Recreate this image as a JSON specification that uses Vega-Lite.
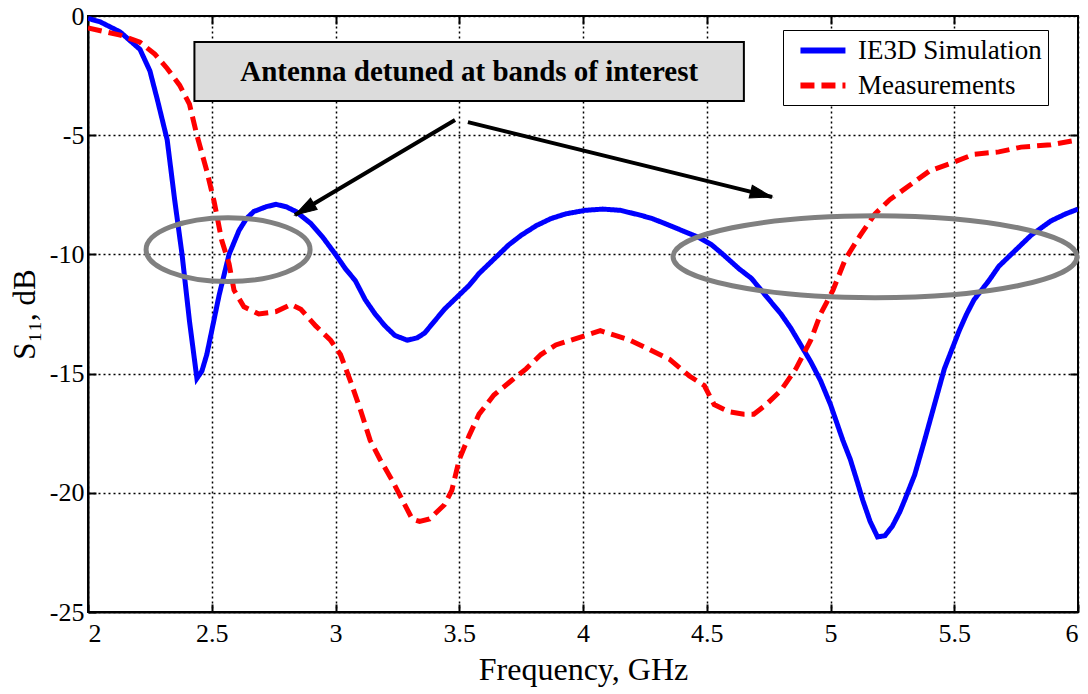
{
  "$schema": "https://vega.github.io/schema/vega-lite/v6.json",
  "width": 990,
  "height": 596,
  "autosize": {"type": "none"},
  "padding": {"left": 88, "top": 16, "right": 10, "bottom": 82},
  "background": "white",
  "config": {
    "view": {"stroke": "black", "strokeWidth": 2},
    "font": "Liberation Serif",
    "axis": {
      "labelFont": "Liberation Serif", "labelFontSize": 26, "labelColor": "black",
      "titleFont": "Liberation Serif", "titleFontSize": 32, "titleColor": "black", "titleFontWeight": "normal",
      "gridColor": "black", "gridDash": [2, 3], "gridWidth": 1.5, "gridOpacity": 1,
      "domainColor": "black", "domainWidth": 2, "tickColor": "black", "tickWidth": 2,
      "tickSize": -8, "labelPadding": 16
    },
    "legend": {
      "orient": "none", "legendX": 695, "legendY": 14,
      "strokeColor": "black", "fillColor": "white", "padding": 6,
      "labelFont": "Liberation Serif", "labelFontSize": 27, "labelColor": "black", "labelLimit": 400,
      "symbolType": "M-0.27,0L3.73,0", "symbolStrokeWidth": 6, "symbolSize": 506,
      "rowPadding": 7, "labelOffset": 40, "titleFontSize": 0
    }
  },
  "resolve": {"axis": {"x": "independent", "y": "independent"}},
  "datasets": {
    "curves": [
      {"f": 2.0, "s": -0.1, "series": "IE3D Simulation"},
      {"f": 2.05, "s": -0.25, "series": "IE3D Simulation"},
      {"f": 2.13, "s": -0.67, "series": "IE3D Simulation"},
      {"f": 2.21, "s": -1.4, "series": "IE3D Simulation"},
      {"f": 2.25, "s": -2.3, "series": "IE3D Simulation"},
      {"f": 2.28, "s": -3.5, "series": "IE3D Simulation"},
      {"f": 2.32, "s": -5.2, "series": "IE3D Simulation"},
      {"f": 2.35, "s": -7.7, "series": "IE3D Simulation"},
      {"f": 2.38, "s": -10.0, "series": "IE3D Simulation"},
      {"f": 2.41, "s": -12.8, "series": "IE3D Simulation"},
      {"f": 2.44, "s": -15.2, "series": "IE3D Simulation"},
      {"f": 2.46, "s": -14.9, "series": "IE3D Simulation"},
      {"f": 2.48, "s": -14.2, "series": "IE3D Simulation"},
      {"f": 2.51, "s": -12.7, "series": "IE3D Simulation"},
      {"f": 2.53, "s": -11.7, "series": "IE3D Simulation"},
      {"f": 2.57, "s": -10.0, "series": "IE3D Simulation"},
      {"f": 2.61, "s": -9.0, "series": "IE3D Simulation"},
      {"f": 2.64, "s": -8.5, "series": "IE3D Simulation"},
      {"f": 2.67, "s": -8.2, "series": "IE3D Simulation"},
      {"f": 2.72, "s": -8.0, "series": "IE3D Simulation"},
      {"f": 2.76, "s": -7.9, "series": "IE3D Simulation"},
      {"f": 2.80, "s": -8.0, "series": "IE3D Simulation"},
      {"f": 2.84, "s": -8.2, "series": "IE3D Simulation"},
      {"f": 2.90, "s": -8.7, "series": "IE3D Simulation"},
      {"f": 2.95, "s": -9.3, "series": "IE3D Simulation"},
      {"f": 3.0, "s": -10.0, "series": "IE3D Simulation"},
      {"f": 3.04, "s": -10.6, "series": "IE3D Simulation"},
      {"f": 3.08, "s": -11.1, "series": "IE3D Simulation"},
      {"f": 3.12, "s": -11.9, "series": "IE3D Simulation"},
      {"f": 3.16, "s": -12.5, "series": "IE3D Simulation"},
      {"f": 3.2, "s": -13.0, "series": "IE3D Simulation"},
      {"f": 3.24, "s": -13.4, "series": "IE3D Simulation"},
      {"f": 3.29, "s": -13.6, "series": "IE3D Simulation"},
      {"f": 3.33, "s": -13.5, "series": "IE3D Simulation"},
      {"f": 3.36, "s": -13.3, "series": "IE3D Simulation"},
      {"f": 3.40, "s": -12.8, "series": "IE3D Simulation"},
      {"f": 3.44, "s": -12.3, "series": "IE3D Simulation"},
      {"f": 3.49, "s": -11.8, "series": "IE3D Simulation"},
      {"f": 3.54, "s": -11.3, "series": "IE3D Simulation"},
      {"f": 3.58, "s": -10.8, "series": "IE3D Simulation"},
      {"f": 3.62, "s": -10.4, "series": "IE3D Simulation"},
      {"f": 3.66, "s": -10.0, "series": "IE3D Simulation"},
      {"f": 3.70, "s": -9.6, "series": "IE3D Simulation"},
      {"f": 3.75, "s": -9.2, "series": "IE3D Simulation"},
      {"f": 3.81, "s": -8.8, "series": "IE3D Simulation"},
      {"f": 3.87, "s": -8.5, "series": "IE3D Simulation"},
      {"f": 3.93, "s": -8.3, "series": "IE3D Simulation"},
      {"f": 4.01, "s": -8.15, "series": "IE3D Simulation"},
      {"f": 4.08, "s": -8.1, "series": "IE3D Simulation"},
      {"f": 4.15, "s": -8.15, "series": "IE3D Simulation"},
      {"f": 4.23, "s": -8.35, "series": "IE3D Simulation"},
      {"f": 4.28, "s": -8.5, "series": "IE3D Simulation"},
      {"f": 4.33, "s": -8.7, "series": "IE3D Simulation"},
      {"f": 4.40, "s": -9.0, "series": "IE3D Simulation"},
      {"f": 4.47, "s": -9.3, "series": "IE3D Simulation"},
      {"f": 4.52, "s": -9.6, "series": "IE3D Simulation"},
      {"f": 4.56, "s": -9.95, "series": "IE3D Simulation"},
      {"f": 4.63, "s": -10.6, "series": "IE3D Simulation"},
      {"f": 4.68, "s": -11.0, "series": "IE3D Simulation"},
      {"f": 4.72, "s": -11.5, "series": "IE3D Simulation"},
      {"f": 4.76, "s": -12.0, "series": "IE3D Simulation"},
      {"f": 4.80, "s": -12.5, "series": "IE3D Simulation"},
      {"f": 4.84, "s": -13.1, "series": "IE3D Simulation"},
      {"f": 4.88, "s": -13.8, "series": "IE3D Simulation"},
      {"f": 4.92, "s": -14.5, "series": "IE3D Simulation"},
      {"f": 4.96, "s": -15.3, "series": "IE3D Simulation"},
      {"f": 5.0, "s": -16.3, "series": "IE3D Simulation"},
      {"f": 5.02, "s": -16.9, "series": "IE3D Simulation"},
      {"f": 5.05, "s": -17.8, "series": "IE3D Simulation"},
      {"f": 5.08, "s": -18.6, "series": "IE3D Simulation"},
      {"f": 5.11, "s": -19.6, "series": "IE3D Simulation"},
      {"f": 5.13, "s": -20.3, "series": "IE3D Simulation"},
      {"f": 5.16, "s": -21.2, "series": "IE3D Simulation"},
      {"f": 5.19, "s": -21.85, "series": "IE3D Simulation"},
      {"f": 5.22, "s": -21.8, "series": "IE3D Simulation"},
      {"f": 5.25, "s": -21.4, "series": "IE3D Simulation"},
      {"f": 5.28, "s": -20.8, "series": "IE3D Simulation"},
      {"f": 5.30, "s": -20.3, "series": "IE3D Simulation"},
      {"f": 5.34, "s": -19.25, "series": "IE3D Simulation"},
      {"f": 5.38, "s": -17.8, "series": "IE3D Simulation"},
      {"f": 5.42, "s": -16.3, "series": "IE3D Simulation"},
      {"f": 5.46, "s": -14.8, "series": "IE3D Simulation"},
      {"f": 5.49, "s": -14.0, "series": "IE3D Simulation"},
      {"f": 5.52, "s": -13.2, "series": "IE3D Simulation"},
      {"f": 5.55, "s": -12.5, "series": "IE3D Simulation"},
      {"f": 5.58, "s": -11.9, "series": "IE3D Simulation"},
      {"f": 5.64, "s": -11.1, "series": "IE3D Simulation"},
      {"f": 5.68, "s": -10.5, "series": "IE3D Simulation"},
      {"f": 5.73, "s": -10.0, "series": "IE3D Simulation"},
      {"f": 5.77, "s": -9.6, "series": "IE3D Simulation"},
      {"f": 5.81, "s": -9.2, "series": "IE3D Simulation"},
      {"f": 5.85, "s": -8.9, "series": "IE3D Simulation"},
      {"f": 5.89, "s": -8.6, "series": "IE3D Simulation"},
      {"f": 5.95, "s": -8.3, "series": "IE3D Simulation"},
      {"f": 6.0, "s": -8.1, "series": "IE3D Simulation"},
      {"f": 2.0, "s": -0.5, "series": "Measurements"},
      {"f": 2.13, "s": -0.8, "series": "Measurements"},
      {"f": 2.21, "s": -1.1, "series": "Measurements"},
      {"f": 2.27, "s": -1.6, "series": "Measurements"},
      {"f": 2.32, "s": -2.2, "series": "Measurements"},
      {"f": 2.37, "s": -2.9, "series": "Measurements"},
      {"f": 2.41, "s": -3.7, "series": "Measurements"},
      {"f": 2.44, "s": -5.0, "series": "Measurements"},
      {"f": 2.48, "s": -6.5, "series": "Measurements"},
      {"f": 2.51, "s": -7.8, "series": "Measurements"},
      {"f": 2.54, "s": -9.4, "series": "Measurements"},
      {"f": 2.57, "s": -10.4, "series": "Measurements"},
      {"f": 2.59, "s": -11.5, "series": "Measurements"},
      {"f": 2.63, "s": -12.2, "series": "Measurements"},
      {"f": 2.69, "s": -12.5, "series": "Measurements"},
      {"f": 2.76, "s": -12.4, "series": "Measurements"},
      {"f": 2.82, "s": -12.1, "series": "Measurements"},
      {"f": 2.86, "s": -12.3, "series": "Measurements"},
      {"f": 2.92, "s": -13.0, "series": "Measurements"},
      {"f": 2.98, "s": -13.6, "series": "Measurements"},
      {"f": 3.02, "s": -14.2, "series": "Measurements"},
      {"f": 3.06, "s": -15.3, "series": "Measurements"},
      {"f": 3.10, "s": -16.5, "series": "Measurements"},
      {"f": 3.14, "s": -17.8, "series": "Measurements"},
      {"f": 3.18, "s": -18.6, "series": "Measurements"},
      {"f": 3.23, "s": -19.5, "series": "Measurements"},
      {"f": 3.27, "s": -20.3, "series": "Measurements"},
      {"f": 3.31, "s": -21.1, "series": "Measurements"},
      {"f": 3.34, "s": -21.2, "series": "Measurements"},
      {"f": 3.38, "s": -21.1, "series": "Measurements"},
      {"f": 3.44, "s": -20.5, "series": "Measurements"},
      {"f": 3.47, "s": -19.9, "series": "Measurements"},
      {"f": 3.50, "s": -18.6, "series": "Measurements"},
      {"f": 3.54, "s": -17.6, "series": "Measurements"},
      {"f": 3.58, "s": -16.7, "series": "Measurements"},
      {"f": 3.64, "s": -15.9, "series": "Measurements"},
      {"f": 3.71, "s": -15.3, "series": "Measurements"},
      {"f": 3.77, "s": -14.8, "series": "Measurements"},
      {"f": 3.83, "s": -14.2, "series": "Measurements"},
      {"f": 3.89, "s": -13.8, "series": "Measurements"},
      {"f": 3.95, "s": -13.6, "series": "Measurements"},
      {"f": 4.01, "s": -13.4, "series": "Measurements"},
      {"f": 4.07, "s": -13.2, "series": "Measurements"},
      {"f": 4.13, "s": -13.4, "series": "Measurements"},
      {"f": 4.19, "s": -13.6, "series": "Measurements"},
      {"f": 4.27, "s": -14.0, "series": "Measurements"},
      {"f": 4.35, "s": -14.4, "series": "Measurements"},
      {"f": 4.43, "s": -15.1, "series": "Measurements"},
      {"f": 4.49, "s": -15.5, "series": "Measurements"},
      {"f": 4.53, "s": -16.3, "series": "Measurements"},
      {"f": 4.59, "s": -16.6, "series": "Measurements"},
      {"f": 4.65, "s": -16.7, "series": "Measurements"},
      {"f": 4.69, "s": -16.7, "series": "Measurements"},
      {"f": 4.74, "s": -16.3, "series": "Measurements"},
      {"f": 4.80, "s": -15.7, "series": "Measurements"},
      {"f": 4.86, "s": -14.8, "series": "Measurements"},
      {"f": 4.92, "s": -13.6, "series": "Measurements"},
      {"f": 4.96, "s": -12.5, "series": "Measurements"},
      {"f": 5.01, "s": -11.5, "series": "Measurements"},
      {"f": 5.06, "s": -10.2, "series": "Measurements"},
      {"f": 5.12, "s": -9.2, "series": "Measurements"},
      {"f": 5.18, "s": -8.3, "series": "Measurements"},
      {"f": 5.24, "s": -7.7, "series": "Measurements"},
      {"f": 5.32, "s": -7.1, "series": "Measurements"},
      {"f": 5.40, "s": -6.5, "series": "Measurements"},
      {"f": 5.48, "s": -6.2, "series": "Measurements"},
      {"f": 5.58, "s": -5.8, "series": "Measurements"},
      {"f": 5.68, "s": -5.7, "series": "Measurements"},
      {"f": 5.77, "s": -5.5, "series": "Measurements"},
      {"f": 5.89, "s": -5.4, "series": "Measurements"},
      {"f": 6.0, "s": -5.2, "series": "Measurements"}
    ],
    "box": [{"x1": 2.43, "x2": 4.65, "y1": -1.09, "y2": -3.57, "label": "Antenna detuned at bands of interest", "xc": 3.54, "yc": -2.33}],
    "ellipseL": [{"x": 2.566, "y": -9.8}],
    "ellipseR": [{"x": 5.18, "y": -10.1}],
    "arrows": [
      {"x1": 3.483, "y1": -4.36, "x2": 2.836, "y2": -8.35, "angle": 239.4},
      {"x1": 3.535, "y1": -4.45, "x2": 4.764, "y2": -7.59, "angle": 103.9}
    ]
  },
  "layer": [
    {
      "data": {"name": "curves"},
      "mark": {"type": "line", "strokeWidth": 5, "clip": true},
      "encoding": {
        "x": {"field": "f", "type": "quantitative", "scale": {"domain": [2, 6], "nice": false, "zero": false},
              "axis": {"values": [2, 2.5, 3, 3.5, 4, 4.5, 5, 5.5, 6], "title": "Frequency, GHz", "titlePadding": 8, "labelPadding": 16,
                       "labelExpr": "'' + datum.value"}},
        "y": {"field": "s", "type": "quantitative", "scale": {"domain": [-25, 0], "nice": false},
              "axis": {"values": [-25, -20, -15, -10, -5, 0], "title": "S₁₁, dB", "titleFontSize": 31, "titlePadding": 8, "labelPadding": 12,
                       "labelExpr": "datum.value < 0 ? '-' + abs(datum.value) : '' + datum.value"}},
        "color": {"field": "series", "type": "nominal", "scale": {"domain": ["IE3D Simulation", "Measurements"], "range": ["#0000ff", "#ff0000"]},
                  "legend": {"title": null, "labelExpr": "datum.label + '    '"}},
        "strokeDash": {"field": "series", "type": "nominal", "scale": {"domain": ["IE3D Simulation", "Measurements"], "range": [[1, 0], [14, 7]]},
                       "legend": {"title": null, "labelExpr": "datum.label + '    '"}}
      }
    },
    {
      "data": {"name": "box"},
      "mark": {"type": "rect", "fill": "#dcdcdc", "stroke": "black", "strokeWidth": 2},
      "encoding": {
        "x": {"field": "x1", "type": "quantitative", "axis": null}, "x2": {"field": "x2"},
        "y": {"field": "y1", "type": "quantitative", "axis": null}, "y2": {"field": "y2"}
      }
    },
    {
      "data": {"name": "box"},
      "mark": {"type": "text", "font": "Liberation Serif", "fontWeight": "bold", "fontSize": 29, "color": "black", "align": "center", "baseline": "middle"},
      "encoding": {
        "x": {"field": "xc", "type": "quantitative", "axis": null},
        "y": {"field": "yc", "type": "quantitative", "axis": null},
        "text": {"field": "label"}
      }
    },
    {
      "data": {"name": "ellipseL"},
      "mark": {"type": "point", "shape": "M-1,0A1,0.39,0,1,0,1,0A1,0.39,0,1,0,-1,0Z", "size": 26896, "filled": false, "stroke": "#808080", "strokeWidth": 5, "opacity": 1},
      "encoding": {"x": {"field": "x", "type": "quantitative", "axis": null}, "y": {"field": "y", "type": "quantitative", "axis": null}}
    },
    {
      "data": {"name": "ellipseR"},
      "mark": {"type": "point", "shape": "M-1,0A1,0.203,0,1,0,1,0A1,0.203,0,1,0,-1,0Z", "size": 163216, "filled": false, "stroke": "#808080", "strokeWidth": 5, "opacity": 1},
      "encoding": {
        "x": {"field": "x", "type": "quantitative", "axis": {"orient": "top", "values": [2.5, 3, 3.5, 4, 4.5, 5, 5.5], "labels": false, "grid": false, "domain": false, "title": null}},
        "y": {"field": "y", "type": "quantitative", "axis": {"orient": "right", "values": [-20, -15, -10, -5], "labels": false, "grid": false, "domain": false, "title": null}}
      }
    },
    {
      "data": {"name": "arrows"},
      "mark": {"type": "rule", "stroke": "black", "strokeWidth": 4},
      "encoding": {
        "x": {"field": "x1", "type": "quantitative", "axis": null}, "x2": {"field": "x2"},
        "y": {"field": "y1", "type": "quantitative", "axis": null}, "y2": {"field": "y2"}
      }
    },
    {
      "data": {"name": "arrows"},
      "mark": {"type": "point", "shape": "M0,0L-0.6,2L0.6,2Z", "size": 484, "filled": true, "fill": "black", "stroke": "black", "strokeWidth": 1, "opacity": 1},
      "encoding": {
        "x": {"field": "x2", "type": "quantitative", "axis": null},
        "y": {"field": "y2", "type": "quantitative", "axis": null},
        "angle": {"field": "angle", "type": "quantitative", "scale": null}
      }
    }
  ]
}
